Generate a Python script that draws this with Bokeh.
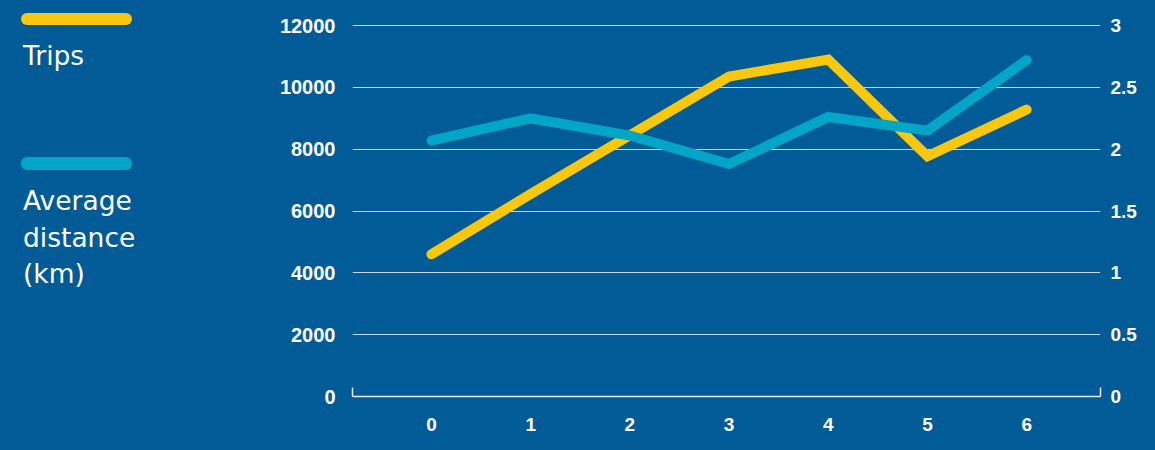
from bokeh.plotting import figure
from bokeh.layouts import row
from bokeh.models import Range1d, LinearAxis, FixedTicker, ColumnDataSource, Div
from bokeh.embed import file_html
from bokeh.resources import INLINE

# ---- data ----
categories = [0, 1, 2, 3, 4, 5, 6]
trips = [4600, 6550, 8450, 10350, 10900, 7770, 9280]
avg_distance = [2.07, 2.25, 2.11, 1.88, 2.26, 2.15, 2.72]
left_ticks = [0, 2000, 4000, 6000, 8000, 10000, 12000]
right_ticks = [0, 0.5, 1, 1.5, 2, 2.5, 3]
legend_trips = "Trips"
legend_dist = ["Average", "distance", "(km)"]

BG = "#005B96"
YELLOW = "#F9C80E"
TEAL = "#00A5C8"
GRID = "#C9D5E2"
AXIS = "#E3EAF2"
TICK_FONT = "Liberation Sans"
LEG_FONT = "DejaVu Sans"

W, H = 1139, 434
LW = 200
MW = W - LW

# ---- legend panel (HTML) ----
def bar(top, color):
    return (f'<div style="position:absolute;left:21px;top:{top}px;width:110.5px;height:12.4px;'
            f'border-radius:6.2px;background:{color};"></div>')

txt_style = (f"position:absolute;left:23px;margin:0;padding:0;color:white;"
             f"font-family:'{LEG_FONT}';font-size:26.5px;white-space:nowrap;")
legend_html = (
    f'<div style="position:relative;width:{LW}px;height:{H}px;background:{BG};overflow:hidden;">'
    + bar(12.7, YELLOW)
    + f'<div style="{txt_style}top:43.1px;line-height:26.5px;">{legend_trips}</div>'
    + bar(157.3, TEAL)
    + f'<div style="{txt_style}top:183.1px;line-height:36.5px;">' + "<br>".join(legend_dist) + "</div>"
    + "</div>"
)
leg = Div(text=legend_html, width=LW, height=H, margin=0,
          styles={"background-color": BG, "padding": "0", "margin": "0"})

# ---- main chart ----
x_start = -0.796
x_end = x_start + 748 / 99.2
y_top = 12000 * 372 / 371  # one pixel of headroom so the top gridline is not clipped
p = figure(width=MW, height=H, x_range=Range1d(x_start, x_end), y_range=Range1d(0, y_top),
           output_backend="svg", toolbar_location=None,
           min_border_left=352 - LW, min_border_right=W - 1100,
           min_border_top=24, min_border_bottom=H - 396)
p.styles = {"background-color": BG}
p.background_fill_color = BG
p.border_fill_color = BG
p.outline_line_color = None
p.xgrid.visible = False
p.ygrid.ticker = FixedTicker(ticks=left_ticks)
p.ygrid.grid_line_color = GRID
p.ygrid.grid_line_width = 1.2

p.extra_y_ranges = {"dist": Range1d(0, 3 * 372 / 371)}

# x axis (bracket with end ticks)
xa = p.xaxis[0]
xa.ticker = FixedTicker(ticks=categories, minor_ticks=[x_start + 1e-6, x_end - 1e-6])
xa.axis_line_color = AXIS
xa.axis_line_width = 1.5
xa.major_tick_line_color = None
xa.minor_tick_line_color = AXIS
xa.minor_tick_line_width = 1.5
xa.minor_tick_in = 9
xa.minor_tick_out = 0
xa.major_label_text_color = "white"
xa.major_label_text_font = TICK_FONT
xa.major_label_text_font_style = "bold"
xa.major_label_text_font_size = "19px"
xa.major_label_standoff = 15

# left axis
ya = p.yaxis[0]
ya.ticker = FixedTicker(ticks=left_ticks)
ya.axis_line_color = None
ya.major_tick_line_color = None
ya.minor_tick_line_color = None
ya.major_label_text_color = "white"
ya.major_label_text_font = TICK_FONT
ya.major_label_text_font_style = "bold"
ya.major_label_text_font_size = "20px"
ya.major_label_standoff = 11

# right axis
ra = LinearAxis(y_range_name="dist", ticker=FixedTicker(ticks=right_ticks))
ra.axis_line_color = None
ra.major_tick_line_color = None
ra.minor_tick_line_color = None
ra.major_label_text_color = "white"
ra.major_label_text_font = TICK_FONT
ra.major_label_text_font_style = "bold"
ra.major_label_text_font_size = "19px"
ra.major_label_standoff = 4
p.add_layout(ra, "right")

src = ColumnDataSource(dict(x=categories, trips=trips, dist=avg_distance))
p.line(x="x", y="trips", source=src, line_color=YELLOW, line_width=10,
       line_cap="round", line_join="miter")
p.line(x="x", y="dist", source=src, y_range_name="dist", line_color=TEAL, line_width=10,
       line_cap="round", line_join="miter")

layout = row(leg, p, spacing=0)
layout.styles = {"background-color": BG, "box-shadow": f"0 0 0 40px {BG}"}
open("out.html", "w").write(file_html(layout, INLINE))
